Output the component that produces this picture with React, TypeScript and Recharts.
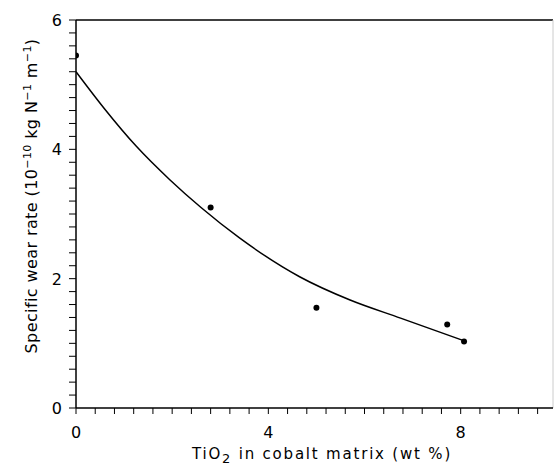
import {
  ComposedChart, Line, Scatter, XAxis, YAxis, ReferenceLine, Label,
} from 'recharts';

// measured wear rates (x = wt % TiO2, y = 1e-10 kg/N/m)
const measured = [
  { x: 0, y: 5.45 },
  { x: 2.8, y: 3.1 },
  { x: 5.0, y: 1.55 },
  { x: 7.72, y: 1.29 },
  { x: 8.07, y: 1.03 },
];

// fitted curve
const fitted = [
  { x: 0, y: 5.2 },
  { x: 0.6, y: 4.62 },
  { x: 1.25, y: 4.05 },
  { x: 1.95, y: 3.53 },
  { x: 2.6, y: 3.1 },
  { x: 3.4, y: 2.63 },
  { x: 4.65, y: 2.03 },
  { x: 5.7, y: 1.67 },
  { x: 6.75, y: 1.39 },
  { x: 8.07, y: 1.04 },
];

const xTicks = [0, 0.4, 0.8, 1.2, 1.6, 2, 2.4, 2.8, 3.2, 3.6, 4, 4.4, 4.8, 5.2, 5.6, 6, 6.4, 6.8, 7.2, 7.6, 8, 8.4, 8.8, 9.2, 9.6];
const xLabels = [0, 4, 8];
const yTicks = [0, 0.2, 0.4, 0.6, 0.8, 1, 1.2, 1.4, 1.6, 1.8, 2, 2.2, 2.4, 2.6, 2.8, 3, 3.2, 3.4, 3.6, 3.8, 4, 4.2, 4.4, 4.6, 4.8, 5, 5.2, 5.4, 5.6, 5.8, 6];
const yLabels = [0, 2, 4, 6];

const FONT = '"DejaVu Sans", sans-serif';

const XTick = ({ x, y, payload }: any) => {
  if (!xLabels.includes(payload.value)) return <g />;
  return (
    <text x={x} y={y + 22} textAnchor="middle" fontSize={16} fontFamily={FONT} fill="#000">
      {payload.value}
    </text>
  );
};

const YTick = ({ x, y, payload }: any) => {
  if (!yLabels.includes(payload.value)) return <g />;
  return (
    <text x={x - 5} y={y + 6} textAnchor="end" fontSize={16} fontFamily={FONT} fill="#000">
      {payload.value}
    </text>
  );
};

const YTitle = () => (
  <text transform="translate(37,196) rotate(-90)" textAnchor="middle" fontSize={16} letterSpacing={0.4} fontFamily={FONT} fill="#000">
    Specific wear rate (10
    <tspan dy={-6} fontSize={11}>−10</tspan>
    <tspan dy={6}> kg N</tspan>
    <tspan dy={-6} fontSize={11}>−1</tspan>
    <tspan dy={6}> m</tspan>
    <tspan dy={-6} fontSize={11}>−1</tspan>
    <tspan dy={6}>)</tspan>
  </text>
);

const XTitle = () => (
  <text x={322} y={459} textAnchor="middle" fontSize={15} letterSpacing={1.8} fontFamily={FONT} fill="#000">
    TiO<tspan dy={4} fontSize={13}>2</tspan>
    <tspan dy={-4}>  in cobalt matrix (wt %)</tspan>
  </text>
);

const Dot = ({ cx, cy }: any) => <circle cx={cx} cy={cy} r={3} fill="#000" />;

export default function App() {
  return (
    <div style={{ position: 'absolute', left: 0, top: 0, background: '#fff' }}>
      <ComposedChart width={555} height={468} margin={{ top: 20, right: 2, bottom: 0, left: 0 }}>
        <XAxis
          type="number"
          dataKey="x"
          domain={[0, 9.92]}
          ticks={xTicks}
          interval={0}
          tick={XTick}
          tickSize={6}
          height={60}
          stroke="#000"
          axisLine={{ stroke: '#000', strokeWidth: 1.5 }}
          allowDataOverflow
        >
          <Label content={XTitle} />
        </XAxis>
        <YAxis
          type="number"
          dataKey="y"
          domain={[0, 6]}
          ticks={yTicks}
          interval={0}
          tick={YTick}
          tickSize={7}
          width={76}
          stroke="#000"
          axisLine={{ stroke: '#000', strokeWidth: 1.5 }}
        >
          <Label content={YTitle} />
        </YAxis>
        <ReferenceLine y={6} stroke="#000" strokeWidth={1.5} />
        <ReferenceLine x={9.92} stroke="#ccc" strokeWidth={1} />
        <Line
          data={fitted}
          dataKey="y"
          type="monotone"
          stroke="#000"
          strokeWidth={1.5}
          dot={false}
          activeDot={false}
          isAnimationActive={false}
        />
        <Scatter data={measured} dataKey="y" fill="#000" shape={Dot} isAnimationActive={false} />
      </ComposedChart>
    </div>
  );
}
